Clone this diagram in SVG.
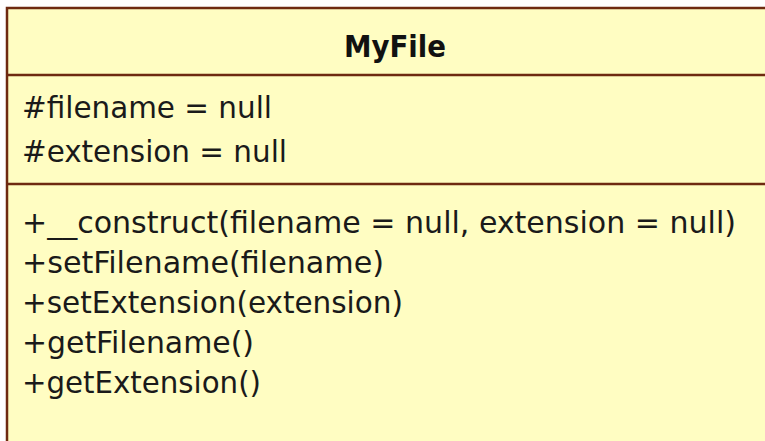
<svg xmlns="http://www.w3.org/2000/svg" width="765" height="441" viewBox="0 0 765 441">
<style>
.box{fill:#FFFDC2;stroke:#6E2A10;stroke-width:2.5}
.sep{stroke:#6E2A10;stroke-width:2.5}
.t{font-family:"DejaVu Sans Condensed","DejaVu Sans",sans-serif;font-size:30px;fill:#1a1a1a}
.title{font-family:"DejaVu Sans Condensed","DejaVu Sans",sans-serif;font-size:30px;font-weight:bold;fill:#111}
</style>
<rect width="765" height="441" fill="#ffffff"/>
<g id="MyFile">
<rect class="box" x="7" y="8" width="780" height="450"/>
<line class="sep" x1="7" y1="75" x2="765" y2="75"/>
<line class="sep" x1="7" y1="184" x2="765" y2="184"/>
<text class="title" x="395" y="57" text-anchor="middle" textLength="102" lengthAdjust="spacingAndGlyphs">MyFile</text>
<text class="t" x="22" y="118" textLength="250" lengthAdjust="spacingAndGlyphs">#filename = null</text>
<text class="t" x="22" y="162" textLength="265" lengthAdjust="spacingAndGlyphs">#extension = null</text>
<text class="t" x="22" y="233" textLength="714" lengthAdjust="spacingAndGlyphs">+__construct(filename = null, extension = null)</text>
<text class="t" x="22" y="273" textLength="362" lengthAdjust="spacingAndGlyphs">+setFilename(filename)</text>
<text class="t" x="22" y="313" textLength="381" lengthAdjust="spacingAndGlyphs">+setExtension(extension)</text>
<text class="t" x="22" y="353" textLength="232" lengthAdjust="spacingAndGlyphs">+getFilename()</text>
<text class="t" x="22" y="393" textLength="239" lengthAdjust="spacingAndGlyphs">+getExtension()</text>
</g>
<g id="connectors"></g>
</svg>
